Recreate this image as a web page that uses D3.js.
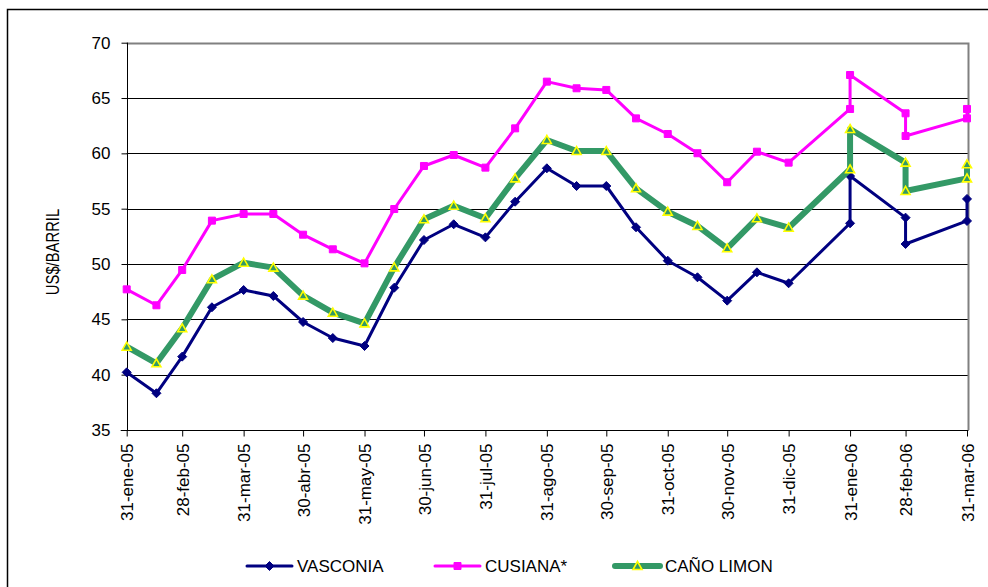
<!DOCTYPE html>
<html>
<head>
<meta charset="utf-8">
<script src="https://cdnjs.cloudflare.com/ajax/libs/d3/7.8.5/d3.min.js"></script>
<style>
  body { margin: 0; background: #fff; }
  text { font-family: "Liberation Sans", Arial, sans-serif; fill: #000; }
</style>
</head>
<body>
<div id="chart-box"></div>
<script>

// fechas de cada punto (los ultimos tres meses van repetidos)
var fechas = ["2005-01-31","2005-02-15","2005-02-28","2005-03-15","2005-03-31","2005-04-15","2005-04-30",
  "2005-05-15","2005-05-31","2005-06-15","2005-06-30","2005-07-15","2005-07-31","2005-08-15","2005-08-31",
  "2005-09-15","2005-09-30","2005-10-15","2005-10-31","2005-11-15","2005-11-30","2005-12-15","2005-12-31",
  "2006-01-31","2006-01-31","2006-02-28","2006-02-28","2006-03-31","2006-03-31"];

var vasconia = [40.21,38.32,41.63,46.09,47.65,47.11,44.76,43.31,42.59,47.86,52.17,53.59,52.41,55.63,58.65,
  57.05,57.05,53.32,50.30,48.80,46.69,49.25,48.26,53.68,57.95,54.19,51.81,53.89,55.88];
var cusiana = [47.71,46.27,49.46,53.92,54.52,54.52,52.65,51.33,50.06,54.97,58.86,59.85,58.71,62.26,66.48,
  65.88,65.73,63.16,61.75,60.01,57.39,60.15,59.16,64.01,67.08,63.62,61.57,63.16,64.01];
var canoLimon = [42.53,41.03,44.19,48.62,50.12,49.67,47.14,45.60,44.64,49.70,54.04,55.27,54.13,57.74,61.21,
  60.21,60.21,56.84,54.73,53.44,51.42,54.13,53.28,58.56,62.20,59.16,56.60,57.74,59.01];

var tickFechas = ["2005-01-31","2005-02-28","2005-03-31","2005-04-30","2005-05-31","2005-06-30","2005-07-31",
  "2005-08-31","2005-09-30","2005-10-31","2005-11-30","2005-12-31","2006-01-31","2006-02-28","2006-03-31"];
var tickLabels = ["31-ene-05","28-feb-05","31-mar-05","30-abr-05","31-may-05","30-jun-05","31-jul-05",
  "31-ago-05","30-sep-05","31-oct-05","30-nov-05","31-dic-05","31-ene-06","28-feb-06","31-mar-06"];
var yTicks = [35,40,45,50,55,60,65,70];

var seriesNames = ["VASCONIA","CUSIANA*","CAÑO LIMON"];

drawChart();

function drawChart(){

  var width = 988, height = 587;
  var left = 126.7, right = 967, top = 42.7, bottom = 430;

  var parse = d3.utcParse("%Y-%m-%d");

  var svg = d3.select("#chart-box").append("svg")
    .attr("width", width)
    .attr("height", height);

  // marco exterior
  svg.append("path")
    .attr("d", "M7.5,600 L7.5,9.5 L990,9.5")
    .attr("fill", "none")
    .attr("stroke", "#000")
    .attr("stroke-width", 1.5);

  var x = d3.scaleUtc()
    .domain([parse("2005-01-31"), parse("2006-03-31")])
    .range([left, right]);

  var y = d3.scaleLinear()
    .domain([35, 70])
    .range([bottom, top]);

  // lineas de grilla
  svg.append("g")
    .selectAll("line")
    .data(yTicks.filter(function(d){ return d > 35 && d < 70; }))
    .enter()
    .append("line")
    .attr("x1", left)
    .attr("x2", right + 1.5)
    .attr("y1", function(d){ return Math.round(y(d)) + 0.5; })
    .attr("y2", function(d){ return Math.round(y(d)) + 0.5; })
    .attr("stroke", "#000")
    .attr("stroke-width", 1);

  // borde gris del area de trazado
  svg.append("path")
    .attr("d", "M" + left + "," + (Math.round(top) + 0.5) + " L" + (right + 1.5) + "," + (Math.round(top) + 0.5) + " L" + (right + 1.5) + "," + bottom)
    .attr("fill", "none")
    .attr("stroke", "#808080")
    .attr("stroke-width", 2);

  var yAxis = d3.axisLeft(y)
    .tickValues(yTicks)
    .tickSize(6)
    .tickPadding(11);

  var gy = svg.append("g")
    .attr("transform", "translate(" + (Math.round(left) + 0.5) + ",0)")
    .call(yAxis);
  gy.select(".domain").attr("stroke", "#000").attr("d", "M0," + top + "V" + bottom);
  gy.selectAll(".tick line").attr("stroke", "#000");
  gy.selectAll(".tick text")
    .style("font-size", "17px")
    .style("font-family", "Liberation Sans, Arial");

  var xAxis = d3.axisBottom(x)
    .tickValues(tickFechas.map(parse))
    .tickSize(6)
    .tickFormat(function(d, i){ return tickLabels[i]; });

  var gx = svg.append("g")
    .attr("transform", "translate(0," + (Math.round(bottom) + 0.5) + ")")
    .call(xAxis);
  gx.select(".domain").attr("stroke", "#000").attr("d", "M" + (left - 6) + ",0H" + (right + 1.5));
  gx.selectAll(".tick line").attr("stroke", "#000");
  gx.selectAll(".tick text")
    .style("font-size", "17px")
    .style("font-family", "Liberation Sans, Arial")
    .attr("text-anchor", "end")
    .attr("transform", "rotate(-90)")
    .attr("x", -13)
    .attr("y", 0)
    .attr("dy", "0.36em");

  // titulo eje y
  svg.append("text")
    .attr("transform", "translate(59,252) rotate(-90) scale(0.78,1)")
    .attr("text-anchor", "middle")
    .style("font-size", "19px")
    .text("US$/BARRIL");

  var series = [
    {name: seriesNames[0], values: vasconia, color: "#000080", w: 3, marker: "diamond"},
    {name: seriesNames[1], values: cusiana, color: "#ff00ff", w: 3, marker: "square"},
    {name: seriesNames[2], values: canoLimon, color: "#339966", w: 6, marker: "triangle"}
  ];

  var line = d3.line()
    .x(function(d){ return x(d.date); })
    .y(function(d){ return y(d.value); });

  // orden de dibujo: vasconia, cusiana, caño limon encima
  series.forEach(function(s){
    var pts = s.values.map(function(v, i){ return {date: parse(fechas[i]), value: v}; });

    svg.append("path")
      .datum(pts)
      .attr("d", line)
      .attr("fill", "none")
      .attr("stroke", s.color)
      .attr("stroke-width", s.w)
      .attr("stroke-linejoin", "round");

    svg.append("g")
      .selectAll("path")
      .data(pts)
      .enter()
      .append("path")
      .attr("transform", function(d){ return "translate(" + x(d.date) + "," + y(d.value) + ")"; })
      .call(drawMarker, s);
  });

  // leyenda
  var legendX = [247, 435, 615];
  var legendY = 566;
  series.forEach(function(s, i){
    var g = svg.append("g").attr("transform", "translate(" + legendX[i] + "," + legendY + ")");
    g.append("line")
      .attr("x1", 0).attr("x2", 45)
      .attr("y1", 0).attr("y2", 0)
      .attr("stroke", s.color)
      .attr("stroke-width", s.w)
      .attr("stroke-linecap", "round");
    g.append("path")
      .attr("transform", "translate(22.5,0)")
      .call(drawMarker, s);
    g.append("text")
      .attr("x", 50)
      .attr("y", 0)
      .attr("dy", "0.36em")
      .style("font-size", "17px")
      .text(s.name);
  });
}

function drawMarker(sel, s){
  if (s.marker == "diamond") {
    sel.attr("d", "M0,-4.5 L4.5,0 L0,4.5 L-4.5,0 Z")
      .attr("fill", s.color)
      .attr("stroke", s.color)
      .attr("stroke-width", 1);
  } else if (s.marker == "square") {
    sel.attr("d", "M-3.5,-3.5 H3.5 V3.5 H-3.5 Z")
      .attr("fill", s.color)
      .attr("stroke", s.color)
      .attr("stroke-width", 1);
  } else {
    sel.attr("d", "M0,-4.5 L4.5,3.5 L-4.5,3.5 Z")
      .attr("fill", "#339966")
      .attr("stroke", "#ffff00")
      .attr("stroke-width", 1.6);
  }
}
</script>
</body>
</html>
